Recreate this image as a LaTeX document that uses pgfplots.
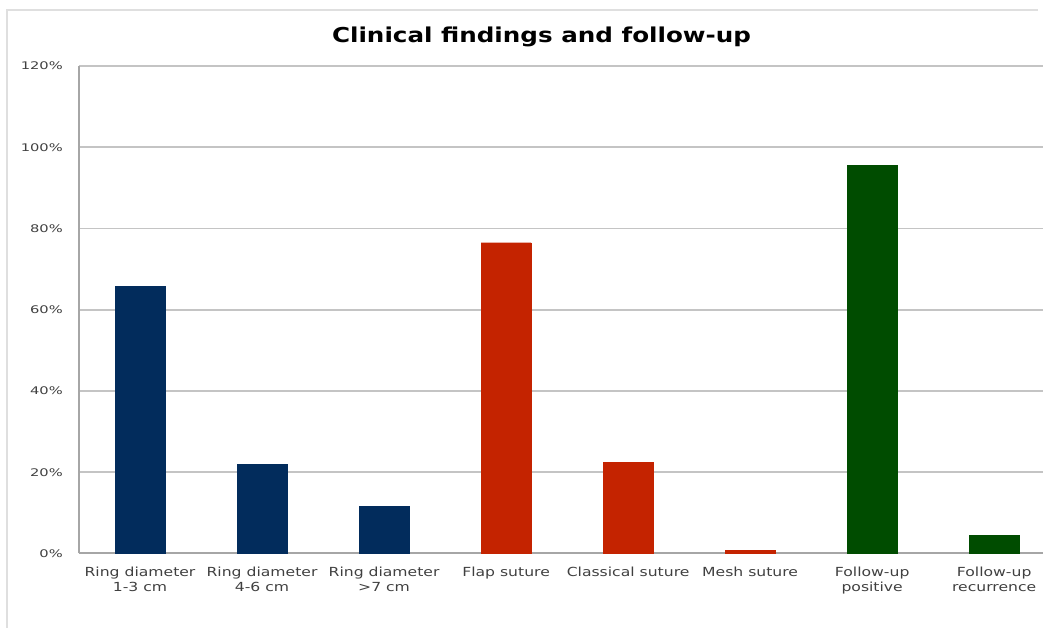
\documentclass[border=0pt]{standalone}
\usepackage{pgfplots}
\pgfplotsset{compat=1.18}
\usepackage{fontspec}
\setmainfont{DejaVu Sans}
\newfontfamily\tickfont[FakeStretch=1.4]{DejaVu Sans}
\newfontfamily\catfont[FakeStretch=1.25]{DejaVu Sans}
\newfontfamily\titlefont[FakeStretch=1.2]{DejaVu Sans}

\definecolor{navy}{HTML}{022C5C}
\definecolor{brick}{HTML}{C42300}
\definecolor{forest}{HTML}{004C00}
\definecolor{labelgray}{HTML}{404040}
\definecolor{gridgray}{HTML}{C4C4C4}
\definecolor{axisgray}{HTML}{A6A6A6}

\begin{document}
\begin{tikzpicture}
% chart frame (left and top edges only, the rest is cropped away)
\draw[gray!25, line width=1.5pt] (7pt,0pt) -- (7pt,618pt) -- (1038pt,618pt);

\begin{axis}[
    at={(79pt,74.5pt)}, anchor=south west,
    scale only axis,
    width=964pt, height=487.5pt,
    xmin=-0.5, xmax=7.4,
    ymin=0, ymax=120,
    ytick={0,20,...,120},
    xtick={0,...,7},
    xticklabels={{Ring diameter\\1-3 cm},{Ring diameter\\4-6 cm},{Ring diameter\\>7 cm},
                 {Flap suture},{Classical suture},{Mesh suture},
                 {Follow-up\\positive},{Follow-up\\recurrence}},
    axis lines*=left,
    axis line style={axisgray, line width=2pt},
    ymajorgrids,
    grid style={gridgray, line width=1.6pt},
    major tick length=0pt,
    /pgf/number format/assume math mode=true,
    yticklabel={\pgfmathprintnumber{\tick}\%},
    yticklabel style={font=\tickfont\fontsize{10.5}{12}\selectfont, text=labelgray,
                      anchor=east, inner sep=0pt, xshift=-16pt},
    xticklabel style={font=\catfont\fontsize{12.5}{15}\selectfont, text=labelgray,
                      align=center, anchor=north, inner sep=0pt, yshift=-13pt},
    title={\titlefont\bfseries Clinical findings and follow-up},
    title style={font=\fontsize{20.5}{24}\selectfont, at={(0.5,1)}, anchor=center,
                 xshift=-19.5pt, yshift=23pt},
    ybar, bar width=50pt, bar shift=0pt,
    clip=false,
]
\addplot[fill=navy, draw=navy] coordinates {(0,65.8) (1,21.9) (2,11.6)};
\addplot[fill=brick, draw=brick] coordinates {(3,76.5) (4,22.4) (5,0.7)};
\addplot[fill=forest, draw=forest] coordinates {(6,95.6) (7,4.4)};
\end{axis}

\pgfresetboundingbox
\path (0pt,0pt) rectangle (1043pt,628pt);
\end{tikzpicture}
\end{document}
